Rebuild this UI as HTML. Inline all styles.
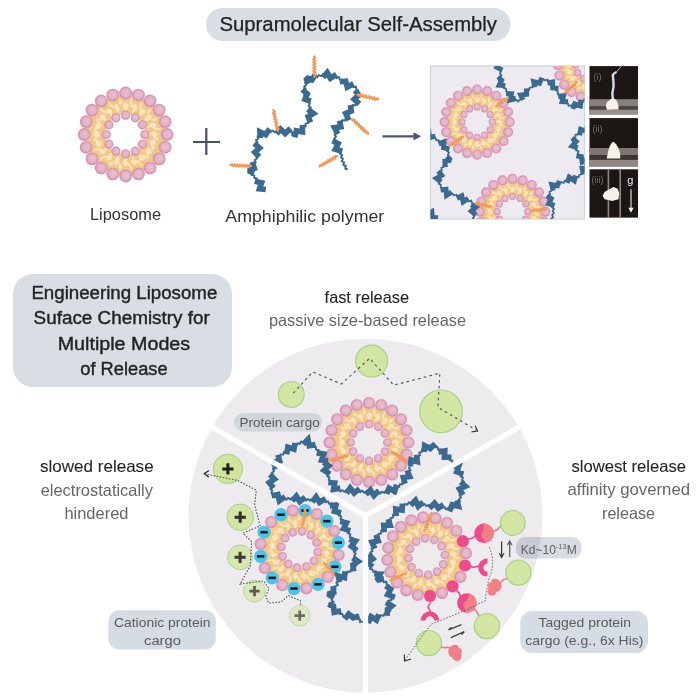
<!DOCTYPE html>
<html><head><meta charset="utf-8"><style>
html,body{margin:0;padding:0;background:#fff;width:697px;height:698px;overflow:hidden}
svg{display:block;font-family:"Liberation Sans",sans-serif}
</style></head><body>
<svg width="697" height="698" viewBox="0 0 697 698">
<defs><radialGradient id="bd" cx="0.5" cy="0.5" r="0.5" fx="0.56" fy="0.44"><stop offset="0" stop-color="#e9c0d0"/><stop offset="0.66" stop-color="#e3b1c5"/><stop offset="0.78" stop-color="#da9ab7"/><stop offset="1" stop-color="#d58faf"/></radialGradient></defs>
<rect width="697" height="698" fill="#ffffff"/>
<rect x="206" y="8" width="304.5" height="33" rx="16.5" fill="#d8dee4"/>
<text x="219.5" y="31" font-size="20.5" fill="#222222" font-weight="normal" textLength="277.5" lengthAdjust="spacingAndGlyphs" stroke="#222222" stroke-width="0.25">Supramolecular Self-Assembly</text>
<circle cx="125.6" cy="134.5" r="30.15" fill="none" stroke="#f1c987" stroke-width="19.7"/>
<path d="M125.6,110 L130.84,101.41 L133.17,111.2 L140.81,104.65 L140,114.68 L149.29,110.81 L145.42,120.1 L155.45,119.29 L148.9,126.93 L158.69,129.26 L150.1,134.5 L158.69,139.74 L148.9,142.07 L155.45,149.71 L145.42,148.9 L149.29,158.19 L140,154.32 L140.81,164.35 L133.17,157.8 L130.84,167.59 L125.6,159 L120.36,167.59 L118.03,157.8 L110.39,164.35 L111.2,154.32 L101.91,158.19 L105.78,148.9 L95.75,149.71 L102.3,142.07 L92.51,139.74 L101.1,134.5 L92.51,129.26 L102.3,126.93 L95.75,119.29 L105.78,120.1 L101.91,110.81 L111.2,114.68 L110.39,104.65 L118.03,111.2 L120.36,101.41Z" fill="none" stroke="#fae4c0" stroke-width="2.2" stroke-dasharray="6 3.5" opacity="0.9"/>
<rect x="123.3" y="103.2" width="4.6" height="4.6" fill="#fae4c0" transform="rotate(-45 125.6 105.5)"/>
<rect x="132.26" y="104.62" width="4.6" height="4.6" fill="#fae4c0" transform="rotate(-27 134.56 106.92)"/>
<rect x="140.35" y="108.74" width="4.6" height="4.6" fill="#fae4c0" transform="rotate(-9 142.65 111.04)"/>
<rect x="146.76" y="115.15" width="4.6" height="4.6" fill="#fae4c0" transform="rotate(9 149.06 117.45)"/>
<rect x="150.88" y="123.24" width="4.6" height="4.6" fill="#fae4c0" transform="rotate(27 153.18 125.54)"/>
<rect x="152.3" y="132.2" width="4.6" height="4.6" fill="#fae4c0" transform="rotate(45 154.6 134.5)"/>
<rect x="150.88" y="141.16" width="4.6" height="4.6" fill="#fae4c0" transform="rotate(63 153.18 143.46)"/>
<rect x="146.76" y="149.25" width="4.6" height="4.6" fill="#fae4c0" transform="rotate(81 149.06 151.55)"/>
<rect x="140.35" y="155.66" width="4.6" height="4.6" fill="#fae4c0" transform="rotate(99 142.65 157.96)"/>
<rect x="132.26" y="159.78" width="4.6" height="4.6" fill="#fae4c0" transform="rotate(117 134.56 162.08)"/>
<rect x="123.3" y="161.2" width="4.6" height="4.6" fill="#fae4c0" transform="rotate(135 125.6 163.5)"/>
<rect x="114.34" y="159.78" width="4.6" height="4.6" fill="#fae4c0" transform="rotate(153 116.64 162.08)"/>
<rect x="106.25" y="155.66" width="4.6" height="4.6" fill="#fae4c0" transform="rotate(171 108.55 157.96)"/>
<rect x="99.84" y="149.25" width="4.6" height="4.6" fill="#fae4c0" transform="rotate(189 102.14 151.55)"/>
<rect x="95.72" y="141.16" width="4.6" height="4.6" fill="#fae4c0" transform="rotate(207 98.02 143.46)"/>
<rect x="94.3" y="132.2" width="4.6" height="4.6" fill="#fae4c0" transform="rotate(225 96.6 134.5)"/>
<rect x="95.72" y="123.24" width="4.6" height="4.6" fill="#fae4c0" transform="rotate(243 98.02 125.54)"/>
<rect x="99.84" y="115.15" width="4.6" height="4.6" fill="#fae4c0" transform="rotate(261 102.14 117.45)"/>
<rect x="106.25" y="108.74" width="4.6" height="4.6" fill="#fae4c0" transform="rotate(279 108.55 111.04)"/>
<rect x="114.34" y="104.62" width="4.6" height="4.6" fill="#fae4c0" transform="rotate(297 116.64 106.92)"/>
<circle cx="125.6" cy="115.2" r="4.6" fill="url(#bd)"/>
<circle cx="135.25" cy="117.79" r="4.6" fill="url(#bd)"/>
<circle cx="142.31" cy="124.85" r="4.6" fill="url(#bd)"/>
<circle cx="144.9" cy="134.5" r="4.6" fill="url(#bd)"/>
<circle cx="142.31" cy="144.15" r="4.6" fill="url(#bd)"/>
<circle cx="135.25" cy="151.21" r="4.6" fill="url(#bd)"/>
<circle cx="125.6" cy="153.8" r="4.6" fill="url(#bd)"/>
<circle cx="115.95" cy="151.21" r="4.6" fill="url(#bd)"/>
<circle cx="108.89" cy="144.15" r="4.6" fill="url(#bd)"/>
<circle cx="106.3" cy="134.5" r="4.6" fill="url(#bd)"/>
<circle cx="108.89" cy="124.85" r="4.6" fill="url(#bd)"/>
<circle cx="115.95" cy="117.79" r="4.6" fill="url(#bd)"/>
<circle cx="125.6" cy="93" r="6.4" fill="url(#bd)"/>
<circle cx="138.42" cy="95.03" r="6.4" fill="url(#bd)"/>
<circle cx="149.99" cy="100.93" r="6.4" fill="url(#bd)"/>
<circle cx="159.17" cy="110.11" r="6.4" fill="url(#bd)"/>
<circle cx="165.07" cy="121.68" r="6.4" fill="url(#bd)"/>
<circle cx="167.1" cy="134.5" r="6.4" fill="url(#bd)"/>
<circle cx="165.07" cy="147.32" r="6.4" fill="url(#bd)"/>
<circle cx="159.17" cy="158.89" r="6.4" fill="url(#bd)"/>
<circle cx="149.99" cy="168.07" r="6.4" fill="url(#bd)"/>
<circle cx="138.42" cy="173.97" r="6.4" fill="url(#bd)"/>
<circle cx="125.6" cy="176" r="6.4" fill="url(#bd)"/>
<circle cx="112.78" cy="173.97" r="6.4" fill="url(#bd)"/>
<circle cx="101.21" cy="168.07" r="6.4" fill="url(#bd)"/>
<circle cx="92.03" cy="158.89" r="6.4" fill="url(#bd)"/>
<circle cx="86.13" cy="147.32" r="6.4" fill="url(#bd)"/>
<circle cx="84.1" cy="134.5" r="6.4" fill="url(#bd)"/>
<circle cx="86.13" cy="121.68" r="6.4" fill="url(#bd)"/>
<circle cx="92.03" cy="110.11" r="6.4" fill="url(#bd)"/>
<circle cx="101.21" cy="100.93" r="6.4" fill="url(#bd)"/>
<circle cx="112.78" cy="95.03" r="6.4" fill="url(#bd)"/>
<path d="M193,142 H220 M206.3,128 V155" stroke="#435269" stroke-width="2.2" fill="none"/>
<path d="M382.5,136.3 H415" stroke="#4a596e" stroke-width="2.2" fill="none"/>
<path d="M413.5,132.2 L421,136.3 L413.5,140.4 Z" fill="#4a596e"/>
<text x="90" y="219.5" font-size="17" fill="#333333" font-weight="normal" textLength="71" lengthAdjust="spacingAndGlyphs">Liposome</text>
<text x="225.3" y="222.2" font-size="17" fill="#333333" font-weight="normal" textLength="159" lengthAdjust="spacingAndGlyphs">Amphiphilic polymer</text>
<path d="M262.94,191.38 L263.41,188.73 L260.82,187.98 L261.29,185.33 L258.71,184.59 L259.16,181.94 L256.57,181.22 L256.97,178.54 L254.34,178.05 L254.3,175.39 L251.57,175.13 L251.99,172.57 L249.91,170.94 L252.14,169.34 L251.34,166.81 L253.91,165.93 L253.31,163.33 L255.78,162.27 L254.79,159.75 L257.17,158.44 L255.95,156.04 L258.07,154.38 L256.45,152.25 L258.18,150.22 L256.21,148.37 L257.8,146.21 L255.84,144.36 L257.56,142.31 L255.87,140.18 L258.07,138.71 L257.51,136.11 L260.2,135.88 L260.76,133.27 L263.38,133.93 L264.56,131.52 L266.99,132.64 L268.61,130.49 L270.74,132.16 L272.75,130.39 L274.66,132.3 L276.77,130.65 L278.67,132.58 L280.67,130.81 L282.82,132.42 L284.48,130.27 L286.76,131.6 L288.7,129.59 L289.88,131.85 L292.31,132.29 L292.09,135.2 L294.31,133.97 L296.69,134.69 L297.24,132.03 L299.92,132.1 L300.18,129.41 L302.88,129.33 L302.97,126.65 L305.65,126.35 L305.51,123.66 L308.14,123.11 L307.78,120.43 L310.43,119.75 L309.69,117.21 L311.84,115.65 L310.06,113.61 L311.62,111.44 L309.5,109.77 L310.84,107.45 L308.63,105.92 L309.87,103.53 L307.61,102.08 L308.78,99.63 L306.42,98.47 L306.8,95.9 L304.1,95.12 L305.5,92.75 L303.73,90.78 L305.67,88.91 L304.12,86.71 L306.24,85.06 L305,82.66 L307.39,81.5 L307.09,78.81 L309.78,79.08 L310.92,76.69 L313.34,77.91 L314.94,75.77 L317.25,77.2 L318.82,75.01 L321.15,76.27 L322.85,74.14 L324.89,75.92 L327.02,74.31 L328.76,76.36 L331.03,74.92 L332.65,77.07 L335,75.75 L336.45,78.01 L338.97,76.97 L339.8,79.46 L342.4,79.67 L342.14,82.47 L344.79,82.49 L345.72,84.96 L348.23,83.9 L349.64,86.18 L352.07,85 L353.4,87.31 L356.02,86.5 L356.26,89 L358.3,90.5 L356.1,92.19 L357.2,94.57 L355,96.3 L357.25,97.78 L356.73,100.14 L358.67,101.95 L355.97,102.69 L355.65,105.29 L352.95,105.07 L352.47,107.69 L349.74,107.69 L349.93,110.31 L347.59,111.52 L349.09,113.81 L347.17,115.59 L348.46,118.08 L345.84,118.3 L344.81,120.48 L342.19,120.14 L342.09,122.89 L339.41,123.21 L339.59,125.89 L336.97,126.54 L337.61,129.14 L335.24,130.38 L336.5,132.77 L334.39,134.43 L335.98,136.6 L334.11,138.54 L335.98,140.47 L334.43,142.69 L336.65,144.18 L335.75,146.69 L338.28,147.64 L337.74,150.26 L340.33,151.06 L339.71,153.65 L342.14,154.82 L340.9,157.22 L342.97,158.84 L341.68,161.23 L344.1,162.46 L343.33,165.02 L345.85,165.99 L345.19,168.6 L347.73,169.51" fill="none" stroke="#3b6a91" stroke-width="1.9" stroke-linejoin="round"/>
<path d="M265.82,189.58 L259.46,188.82 L261.59,182.78 L254.7,181.28 M254.22,173 L248.31,170.88 L254.36,168.37 L252.29,161.8 M259.27,156.78 L254.85,152.21 L259.59,148.05 L254.18,143.39 M260.23,138.15 L259.92,131.91 L265.7,134.72 L269.56,128.8 M276.54,134.04 L280.61,129.21 L285.17,133.6 L290.51,128.31 M294.81,137.33 L296.24,130.79 L302.5,131.9 L302.44,124.86 M310.59,122.35 L308.18,116.69 L313.46,113.42 L307.73,109.14 M310.88,101.16 L305.01,99.22 L307.25,93.83 L302.2,89.65 M308.24,83.71 L305.95,77.68 L311.99,79.92 L315.65,74.03 M323.16,77.53 L327.2,72.72 L330.43,78.26 L336.41,74.46 M339.73,81.78 L345.71,81.18 L347.22,87.15 L353.54,83.77 M354.9,90.43 L358.75,94.99 L354.18,99.23 L359.42,103.92 M350.32,105.06 L351.33,111.09 L345.71,113.46 L348.93,120.24 M339.57,120.61 L340.88,126.83 L334.51,127.74 L337.9,133.99 M332.59,140.73 L338.17,143.68 L335.31,149.3 L342.25,151.18" fill="none" stroke="#3b6a91" stroke-width="5.6" stroke-linejoin="miter" stroke-miterlimit="2.2"/>
<path d="M277.7,130.6 L278.13,128.99 L276.35,127.84 L277.51,126.07 L275.74,124.93 L276.9,123.16 L275.12,122.01 L276.28,120.25 L274.51,119.1 L275.67,117.33 L273.89,116.18 L275.06,114.42 L273.28,113.27 L274.44,111.5 L273.4,110.2" fill="none" stroke="#f49a58" stroke-width="2.4" stroke-linecap="round"/>
<path d="M314.5,76.5 L315.23,75.06 L313.71,73.65 L315.19,72.2 L313.66,70.8 L315.14,69.35 L313.62,67.94 L315.1,66.49 L313.58,65.08 L315.06,63.63 L313.54,62.23 L315.01,60.77 L313.49,59.37 L314.97,57.92 L314.2,56.5" fill="none" stroke="#f49a58" stroke-width="2.4" stroke-linecap="round"/>
<path d="M250.8,166 L249.38,165.18 L247.85,166.61 L246.47,165.04 L244.93,166.46 L243.55,164.89 L242.02,166.32 L240.64,164.75 L239.11,166.18 L237.72,164.61 L236.19,166.03 L234.81,164.47 L233.28,165.89 L231.89,164.32 L230.4,165" fill="none" stroke="#f49a58" stroke-width="2.4" stroke-linecap="round"/>
<path d="M357.7,94.7 L358.9,95.74 L360.6,94.58 L361.64,96.35 L363.33,95.19 L364.37,96.97 L366.06,95.81 L367.1,97.58 L368.8,96.42 L369.84,98.19 L371.53,97.03 L372.57,98.81 L374.26,97.65 L375.3,99.42 L377,98.26 L378.2,99.3" fill="none" stroke="#f49a58" stroke-width="2.4" stroke-linecap="round"/>
<path d="M352.1,118.9 L352.65,120.44 L354.73,120.34 L354.77,122.43 L356.85,122.33 L356.89,124.41 L358.97,124.31 L359.01,126.4 L361.09,126.3 L361.13,128.39 L363.21,128.29 L363.25,130.37 L365.33,130.27 L365.37,132.36 L367.45,132.26 L368,133.8" fill="none" stroke="#f49a58" stroke-width="2.4" stroke-linecap="round"/>
<path d="M337.2,156.1 L335.56,156.19 L335.06,158.22 L333.05,157.66 L332.55,159.69 L330.54,159.13 L330.04,161.16 L328.02,160.6 L327.52,162.63 L325.51,162.07 L325.01,164.1 L322.99,163.55 L322.49,165.58 L320.48,165.02 L319.6,166.4" fill="none" stroke="#f49a58" stroke-width="2.4" stroke-linecap="round"/>
<defs><clipPath id="pc"><rect x="430.5" y="66" width="154" height="153"/></clipPath></defs>
<rect x="430.5" y="66" width="154" height="153" fill="#edebef" stroke="#cdd7e0" stroke-width="1.3"/>
<g clip-path="url(#pc)">
<circle cx="477.1" cy="122.1" r="23.67" fill="none" stroke="#f1c987" stroke-width="15.46"/>
<path d="M477.1,102.87 L481.21,96.13 L483.04,103.81 L489.04,98.67 L488.4,106.54 L495.7,103.5 L492.66,110.8 L500.53,110.16 L495.39,116.16 L503.07,117.99 L496.33,122.1 L503.07,126.21 L495.39,128.04 L500.53,134.04 L492.66,133.4 L495.7,140.7 L488.4,137.66 L489.04,145.53 L483.04,140.39 L481.21,148.07 L477.1,141.33 L472.99,148.07 L471.16,140.39 L465.16,145.53 L465.8,137.66 L458.5,140.7 L461.54,133.4 L453.67,134.04 L458.81,128.04 L451.13,126.21 L457.87,122.1 L451.13,117.99 L458.81,116.16 L453.67,110.16 L461.54,110.8 L458.5,103.5 L465.8,106.54 L465.16,98.67 L471.16,103.81 L472.99,96.13Z" fill="none" stroke="#fae4c0" stroke-width="1.73" stroke-dasharray="4.71 2.75" opacity="0.9"/>
<rect x="475.29" y="97.53" width="3.61" height="3.61" fill="#fae4c0" transform="rotate(-45 477.1 99.33)"/>
<rect x="482.33" y="98.64" width="3.61" height="3.61" fill="#fae4c0" transform="rotate(-27 484.13 100.45)"/>
<rect x="488.68" y="101.88" width="3.61" height="3.61" fill="#fae4c0" transform="rotate(-9 490.48 103.68)"/>
<rect x="493.71" y="106.91" width="3.61" height="3.61" fill="#fae4c0" transform="rotate(9 495.52 108.72)"/>
<rect x="496.95" y="113.26" width="3.61" height="3.61" fill="#fae4c0" transform="rotate(27 498.75 115.07)"/>
<rect x="498.06" y="120.29" width="3.61" height="3.61" fill="#fae4c0" transform="rotate(45 499.87 122.1)"/>
<rect x="496.95" y="127.33" width="3.61" height="3.61" fill="#fae4c0" transform="rotate(63 498.75 129.13)"/>
<rect x="493.71" y="133.68" width="3.61" height="3.61" fill="#fae4c0" transform="rotate(81 495.52 135.48)"/>
<rect x="488.68" y="138.71" width="3.61" height="3.61" fill="#fae4c0" transform="rotate(99 490.48 140.52)"/>
<rect x="482.33" y="141.95" width="3.61" height="3.61" fill="#fae4c0" transform="rotate(117 484.13 143.75)"/>
<rect x="475.29" y="143.06" width="3.61" height="3.61" fill="#fae4c0" transform="rotate(135 477.1 144.87)"/>
<rect x="468.26" y="141.95" width="3.61" height="3.61" fill="#fae4c0" transform="rotate(153 470.07 143.75)"/>
<rect x="461.91" y="138.71" width="3.61" height="3.61" fill="#fae4c0" transform="rotate(171 463.72 140.52)"/>
<rect x="456.88" y="133.68" width="3.61" height="3.61" fill="#fae4c0" transform="rotate(189 458.68 135.48)"/>
<rect x="453.64" y="127.33" width="3.61" height="3.61" fill="#fae4c0" transform="rotate(207 455.45 129.13)"/>
<rect x="452.53" y="120.29" width="3.61" height="3.61" fill="#fae4c0" transform="rotate(225 454.34 122.1)"/>
<rect x="453.64" y="113.26" width="3.61" height="3.61" fill="#fae4c0" transform="rotate(243 455.45 115.07)"/>
<rect x="456.88" y="106.91" width="3.61" height="3.61" fill="#fae4c0" transform="rotate(261 458.68 108.72)"/>
<rect x="461.91" y="101.88" width="3.61" height="3.61" fill="#fae4c0" transform="rotate(279 463.72 103.68)"/>
<rect x="468.26" y="98.64" width="3.61" height="3.61" fill="#fae4c0" transform="rotate(297 470.07 100.45)"/>
<circle cx="477.1" cy="106.95" r="3.61" fill="url(#bd)"/>
<circle cx="484.68" cy="108.98" r="3.61" fill="url(#bd)"/>
<circle cx="490.22" cy="114.52" r="3.61" fill="url(#bd)"/>
<circle cx="492.25" cy="122.1" r="3.61" fill="url(#bd)"/>
<circle cx="490.22" cy="129.68" r="3.61" fill="url(#bd)"/>
<circle cx="484.68" cy="135.22" r="3.61" fill="url(#bd)"/>
<circle cx="477.1" cy="137.25" r="3.61" fill="url(#bd)"/>
<circle cx="469.52" cy="135.22" r="3.61" fill="url(#bd)"/>
<circle cx="463.98" cy="129.68" r="3.61" fill="url(#bd)"/>
<circle cx="461.95" cy="122.1" r="3.61" fill="url(#bd)"/>
<circle cx="463.98" cy="114.52" r="3.61" fill="url(#bd)"/>
<circle cx="469.52" cy="108.98" r="3.61" fill="url(#bd)"/>
<circle cx="477.1" cy="89.52" r="5.02" fill="url(#bd)"/>
<circle cx="487.17" cy="91.12" r="5.02" fill="url(#bd)"/>
<circle cx="496.25" cy="95.74" r="5.02" fill="url(#bd)"/>
<circle cx="503.46" cy="102.95" r="5.02" fill="url(#bd)"/>
<circle cx="508.08" cy="112.03" r="5.02" fill="url(#bd)"/>
<circle cx="509.68" cy="122.1" r="5.02" fill="url(#bd)"/>
<circle cx="508.08" cy="132.17" r="5.02" fill="url(#bd)"/>
<circle cx="503.46" cy="141.25" r="5.02" fill="url(#bd)"/>
<circle cx="496.25" cy="148.46" r="5.02" fill="url(#bd)"/>
<circle cx="487.17" cy="153.08" r="5.02" fill="url(#bd)"/>
<circle cx="477.1" cy="154.68" r="5.02" fill="url(#bd)"/>
<circle cx="467.03" cy="153.08" r="5.02" fill="url(#bd)"/>
<circle cx="457.95" cy="148.46" r="5.02" fill="url(#bd)"/>
<circle cx="450.74" cy="141.25" r="5.02" fill="url(#bd)"/>
<circle cx="446.12" cy="132.17" r="5.02" fill="url(#bd)"/>
<circle cx="444.52" cy="122.1" r="5.02" fill="url(#bd)"/>
<circle cx="446.12" cy="112.03" r="5.02" fill="url(#bd)"/>
<circle cx="450.74" cy="102.95" r="5.02" fill="url(#bd)"/>
<circle cx="457.95" cy="95.74" r="5.02" fill="url(#bd)"/>
<circle cx="467.03" cy="91.12" r="5.02" fill="url(#bd)"/>
<circle cx="512.5" cy="211.6" r="23.82" fill="none" stroke="#f1c987" stroke-width="15.56"/>
<path d="M512.5,192.25 L516.64,185.46 L518.48,193.19 L524.51,188.02 L523.88,195.94 L531.21,192.89 L528.16,200.22 L536.08,199.59 L530.91,205.62 L538.64,207.46 L531.86,211.6 L538.64,215.74 L530.91,217.58 L536.08,223.61 L528.16,222.98 L531.21,230.31 L523.88,227.26 L524.51,235.18 L518.48,230.01 L516.64,237.74 L512.5,230.95 L508.36,237.74 L506.52,230.01 L500.49,235.18 L501.12,227.26 L493.79,230.31 L496.84,222.98 L488.92,223.61 L494.09,217.58 L486.36,215.74 L493.14,211.6 L486.36,207.46 L494.09,205.62 L488.92,199.59 L496.84,200.22 L493.79,192.89 L501.12,195.94 L500.49,188.02 L506.52,193.19 L508.36,185.46Z" fill="none" stroke="#fae4c0" stroke-width="1.74" stroke-dasharray="4.74 2.77" opacity="0.9"/>
<rect x="510.68" y="186.87" width="3.63" height="3.63" fill="#fae4c0" transform="rotate(-45 512.5 188.69)"/>
<rect x="517.76" y="187.99" width="3.63" height="3.63" fill="#fae4c0" transform="rotate(-27 519.58 189.81)"/>
<rect x="524.15" y="191.25" width="3.63" height="3.63" fill="#fae4c0" transform="rotate(-9 525.97 193.07)"/>
<rect x="529.22" y="196.32" width="3.63" height="3.63" fill="#fae4c0" transform="rotate(9 531.03 198.13)"/>
<rect x="532.47" y="202.7" width="3.63" height="3.63" fill="#fae4c0" transform="rotate(27 534.29 204.52)"/>
<rect x="533.59" y="209.78" width="3.63" height="3.63" fill="#fae4c0" transform="rotate(45 535.41 211.6)"/>
<rect x="532.47" y="216.86" width="3.63" height="3.63" fill="#fae4c0" transform="rotate(63 534.29 218.68)"/>
<rect x="529.22" y="223.25" width="3.63" height="3.63" fill="#fae4c0" transform="rotate(81 531.03 225.07)"/>
<rect x="524.15" y="228.32" width="3.63" height="3.63" fill="#fae4c0" transform="rotate(99 525.97 230.13)"/>
<rect x="517.76" y="231.57" width="3.63" height="3.63" fill="#fae4c0" transform="rotate(117 519.58 233.39)"/>
<rect x="510.68" y="232.69" width="3.63" height="3.63" fill="#fae4c0" transform="rotate(135 512.5 234.51)"/>
<rect x="503.6" y="231.57" width="3.63" height="3.63" fill="#fae4c0" transform="rotate(153 505.42 233.39)"/>
<rect x="497.22" y="228.32" width="3.63" height="3.63" fill="#fae4c0" transform="rotate(171 499.03 230.13)"/>
<rect x="492.15" y="223.25" width="3.63" height="3.63" fill="#fae4c0" transform="rotate(189 493.97 225.07)"/>
<rect x="488.89" y="216.86" width="3.63" height="3.63" fill="#fae4c0" transform="rotate(207 490.71 218.68)"/>
<rect x="487.77" y="209.78" width="3.63" height="3.63" fill="#fae4c0" transform="rotate(225 489.59 211.6)"/>
<rect x="488.89" y="202.7" width="3.63" height="3.63" fill="#fae4c0" transform="rotate(243 490.71 204.52)"/>
<rect x="492.15" y="196.32" width="3.63" height="3.63" fill="#fae4c0" transform="rotate(261 493.97 198.13)"/>
<rect x="497.22" y="191.25" width="3.63" height="3.63" fill="#fae4c0" transform="rotate(279 499.03 193.07)"/>
<rect x="503.6" y="187.99" width="3.63" height="3.63" fill="#fae4c0" transform="rotate(297 505.42 189.81)"/>
<circle cx="512.5" cy="196.35" r="3.63" fill="url(#bd)"/>
<circle cx="520.12" cy="198.4" r="3.63" fill="url(#bd)"/>
<circle cx="525.7" cy="203.98" r="3.63" fill="url(#bd)"/>
<circle cx="527.75" cy="211.6" r="3.63" fill="url(#bd)"/>
<circle cx="525.7" cy="219.22" r="3.63" fill="url(#bd)"/>
<circle cx="520.12" cy="224.8" r="3.63" fill="url(#bd)"/>
<circle cx="512.5" cy="226.85" r="3.63" fill="url(#bd)"/>
<circle cx="504.88" cy="224.8" r="3.63" fill="url(#bd)"/>
<circle cx="499.3" cy="219.22" r="3.63" fill="url(#bd)"/>
<circle cx="497.25" cy="211.6" r="3.63" fill="url(#bd)"/>
<circle cx="499.3" cy="203.98" r="3.63" fill="url(#bd)"/>
<circle cx="504.88" cy="198.4" r="3.63" fill="url(#bd)"/>
<circle cx="512.5" cy="178.81" r="5.06" fill="url(#bd)"/>
<circle cx="522.63" cy="180.42" r="5.06" fill="url(#bd)"/>
<circle cx="531.77" cy="185.08" r="5.06" fill="url(#bd)"/>
<circle cx="539.02" cy="192.33" r="5.06" fill="url(#bd)"/>
<circle cx="543.68" cy="201.47" r="5.06" fill="url(#bd)"/>
<circle cx="545.28" cy="211.6" r="5.06" fill="url(#bd)"/>
<circle cx="543.68" cy="221.73" r="5.06" fill="url(#bd)"/>
<circle cx="539.02" cy="230.87" r="5.06" fill="url(#bd)"/>
<circle cx="531.77" cy="238.12" r="5.06" fill="url(#bd)"/>
<circle cx="522.63" cy="242.78" r="5.06" fill="url(#bd)"/>
<circle cx="512.5" cy="244.38" r="5.06" fill="url(#bd)"/>
<circle cx="502.37" cy="242.78" r="5.06" fill="url(#bd)"/>
<circle cx="493.23" cy="238.12" r="5.06" fill="url(#bd)"/>
<circle cx="485.98" cy="230.87" r="5.06" fill="url(#bd)"/>
<circle cx="481.32" cy="221.73" r="5.06" fill="url(#bd)"/>
<circle cx="479.71" cy="211.6" r="5.06" fill="url(#bd)"/>
<circle cx="481.32" cy="201.47" r="5.06" fill="url(#bd)"/>
<circle cx="485.98" cy="192.33" r="5.06" fill="url(#bd)"/>
<circle cx="493.23" cy="185.08" r="5.06" fill="url(#bd)"/>
<circle cx="502.37" cy="180.42" r="5.06" fill="url(#bd)"/>
<circle cx="591" cy="65" r="24.12" fill="none" stroke="#f1c987" stroke-width="15.76"/>
<path d="M591,45.4 L595.19,38.53 L597.06,46.36 L603.17,41.12 L602.52,49.14 L609.95,46.05 L606.86,53.48 L614.88,52.83 L609.64,58.94 L617.47,60.81 L610.6,65 L617.47,69.19 L609.64,71.06 L614.88,77.17 L606.86,76.52 L609.95,83.95 L602.52,80.86 L603.17,88.88 L597.06,83.64 L595.19,91.47 L591,84.6 L586.81,91.47 L584.94,83.64 L578.83,88.88 L579.48,80.86 L572.05,83.95 L575.14,76.52 L567.12,77.17 L572.36,71.06 L564.53,69.19 L571.4,65 L564.53,60.81 L572.36,58.94 L567.12,52.83 L575.14,53.48 L572.05,46.05 L579.48,49.14 L578.83,41.12 L584.94,46.36 L586.81,38.53Z" fill="none" stroke="#fae4c0" stroke-width="1.76" stroke-dasharray="4.8 2.8" opacity="0.9"/>
<rect x="589.16" y="39.96" width="3.68" height="3.68" fill="#fae4c0" transform="rotate(-45 591 41.8)"/>
<rect x="596.33" y="41.1" width="3.68" height="3.68" fill="#fae4c0" transform="rotate(-27 598.17 42.94)"/>
<rect x="602.8" y="44.39" width="3.68" height="3.68" fill="#fae4c0" transform="rotate(-9 604.64 46.23)"/>
<rect x="607.93" y="49.52" width="3.68" height="3.68" fill="#fae4c0" transform="rotate(9 609.77 51.36)"/>
<rect x="611.22" y="55.99" width="3.68" height="3.68" fill="#fae4c0" transform="rotate(27 613.06 57.83)"/>
<rect x="612.36" y="63.16" width="3.68" height="3.68" fill="#fae4c0" transform="rotate(45 614.2 65)"/>
<rect x="611.22" y="70.33" width="3.68" height="3.68" fill="#fae4c0" transform="rotate(63 613.06 72.17)"/>
<rect x="607.93" y="76.8" width="3.68" height="3.68" fill="#fae4c0" transform="rotate(81 609.77 78.64)"/>
<rect x="602.8" y="81.93" width="3.68" height="3.68" fill="#fae4c0" transform="rotate(99 604.64 83.77)"/>
<rect x="596.33" y="85.22" width="3.68" height="3.68" fill="#fae4c0" transform="rotate(117 598.17 87.06)"/>
<rect x="589.16" y="86.36" width="3.68" height="3.68" fill="#fae4c0" transform="rotate(135 591 88.2)"/>
<rect x="581.99" y="85.22" width="3.68" height="3.68" fill="#fae4c0" transform="rotate(153 583.83 87.06)"/>
<rect x="575.52" y="81.93" width="3.68" height="3.68" fill="#fae4c0" transform="rotate(171 577.36 83.77)"/>
<rect x="570.39" y="76.8" width="3.68" height="3.68" fill="#fae4c0" transform="rotate(189 572.23 78.64)"/>
<rect x="567.1" y="70.33" width="3.68" height="3.68" fill="#fae4c0" transform="rotate(207 568.94 72.17)"/>
<rect x="565.96" y="63.16" width="3.68" height="3.68" fill="#fae4c0" transform="rotate(225 567.8 65)"/>
<rect x="567.1" y="55.99" width="3.68" height="3.68" fill="#fae4c0" transform="rotate(243 568.94 57.83)"/>
<rect x="570.39" y="49.52" width="3.68" height="3.68" fill="#fae4c0" transform="rotate(261 572.23 51.36)"/>
<rect x="575.52" y="44.39" width="3.68" height="3.68" fill="#fae4c0" transform="rotate(279 577.36 46.23)"/>
<rect x="581.99" y="41.1" width="3.68" height="3.68" fill="#fae4c0" transform="rotate(297 583.83 42.94)"/>
<circle cx="591" cy="49.56" r="3.68" fill="url(#bd)"/>
<circle cx="598.72" cy="51.63" r="3.68" fill="url(#bd)"/>
<circle cx="604.37" cy="57.28" r="3.68" fill="url(#bd)"/>
<circle cx="606.44" cy="65" r="3.68" fill="url(#bd)"/>
<circle cx="604.37" cy="72.72" r="3.68" fill="url(#bd)"/>
<circle cx="598.72" cy="78.37" r="3.68" fill="url(#bd)"/>
<circle cx="591" cy="80.44" r="3.68" fill="url(#bd)"/>
<circle cx="583.28" cy="78.37" r="3.68" fill="url(#bd)"/>
<circle cx="577.63" cy="72.72" r="3.68" fill="url(#bd)"/>
<circle cx="575.56" cy="65" r="3.68" fill="url(#bd)"/>
<circle cx="577.63" cy="57.28" r="3.68" fill="url(#bd)"/>
<circle cx="583.28" cy="51.63" r="3.68" fill="url(#bd)"/>
<circle cx="591" cy="31.8" r="5.12" fill="url(#bd)"/>
<circle cx="601.26" cy="33.42" r="5.12" fill="url(#bd)"/>
<circle cx="610.51" cy="38.14" r="5.12" fill="url(#bd)"/>
<circle cx="617.86" cy="45.49" r="5.12" fill="url(#bd)"/>
<circle cx="622.58" cy="54.74" r="5.12" fill="url(#bd)"/>
<circle cx="624.2" cy="65" r="5.12" fill="url(#bd)"/>
<circle cx="622.58" cy="75.26" r="5.12" fill="url(#bd)"/>
<circle cx="617.86" cy="84.51" r="5.12" fill="url(#bd)"/>
<circle cx="610.51" cy="91.86" r="5.12" fill="url(#bd)"/>
<circle cx="601.26" cy="96.58" r="5.12" fill="url(#bd)"/>
<circle cx="591" cy="98.2" r="5.12" fill="url(#bd)"/>
<circle cx="580.74" cy="96.58" r="5.12" fill="url(#bd)"/>
<circle cx="571.49" cy="91.86" r="5.12" fill="url(#bd)"/>
<circle cx="564.14" cy="84.51" r="5.12" fill="url(#bd)"/>
<circle cx="559.42" cy="75.26" r="5.12" fill="url(#bd)"/>
<circle cx="557.8" cy="65" r="5.12" fill="url(#bd)"/>
<circle cx="559.42" cy="54.74" r="5.12" fill="url(#bd)"/>
<circle cx="564.14" cy="45.49" r="5.12" fill="url(#bd)"/>
<circle cx="571.49" cy="38.14" r="5.12" fill="url(#bd)"/>
<circle cx="580.74" cy="33.42" r="5.12" fill="url(#bd)"/>
<path d="M498.08,59.79 L497.04,62.15 L499.14,63.64 L498.11,66 L500.19,67.51 L499.11,69.85 L501.14,71.44 L499.91,73.66 L501.61,75.66 L499.47,77.2 L500.26,79.45 L498.81,81.5 L501.2,82.62 L501.05,85.17 L503.58,85.69 L503.65,88.26 L506.19,88.73 L506.16,91.29 L508.61,92.03 L508.28,94.6 L510.69,95.44 L510.52,98.04 L513.04,98.34 L513.9,100.74 L516.29,99.83 L518.22,101.55 L519.58,99.49 L522,99.14 L521.53,96.54 L523.86,95.54 L523.64,92.96 L526.22,92.61 L526.61,90.08 L529.19,90.03 L529.71,87.51 L532.29,87.49 L532.72,84.98 L535.24,84.67 L535.51,82.04 L538.07,82.27 L539.26,80.03 L541.65,80.98 L543.29,78.98 L545.32,80.47 L547.66,79.42 L548.39,81.94 L550.9,82.23 L551.07,84.85 L553.63,84.9 L554.35,87.2 L556.87,87.71 L555.9,90.22 L557.93,91.62 L557.61,94.14 L560.24,94.4 L560.6,96.89 L563.12,97.38 L562.84,99.98 L565.25,100.77 L565.28,103.36 L567.89,103.45 L568.57,105.95 L571.05,105.42 L572.7,107.41 L574.44,105.49 L576.87,106.18 L577.82,103.77 L580.36,104.06 L581.13,101.61 L583.71,101.76 L584.25,99.24 L586.81,99.14 L587.22,96.6" fill="none" stroke="#3b6a91" stroke-width="1.71" stroke-linejoin="round"/>
<path d="M495.13,60.58 L500.26,62.29 L496.98,67.33 L502.32,70.13 M498.12,76.72 L501.63,80.19 L499.25,85.18 L505.32,85.51 M506.04,93.69 L511.4,93.85 L510.2,99.87 L515.87,98.23 M523.19,99.96 L520.7,94.96 L526.59,94.26 L526.45,88.32 M534.84,87.18 L533.74,81.76 L539.49,83.22 L541.96,77.76 M547.44,83.03 L552.61,81.99 L552.73,87.92 L558.6,88.31 M558.18,96.65 L563.59,95.62 L562.16,101.64 L568.1,101.76 M572.67,108.85 L574.73,103.82 L580.29,105.82 L581.1,99.88" fill="none" stroke="#3b6a91" stroke-width="5.04" stroke-linejoin="miter" stroke-miterlimit="2.2"/>
<path d="M425.44,131.32 L426.24,133.77 L428.8,133.49 L429.6,135.93 L432.16,135.66 L432.95,138.11 L435.51,137.87 L436.24,140.34 L438.8,140.18 L439.51,142.65 L442.09,142.44 L442.74,144.91 L445.32,145.06 L445.3,147.62 L447.66,148.6 L446.87,151.06 L448.98,152.54 L447.79,154.81 L449.62,156.63 L448,158.57 L449.07,160.94 L446.57,161.68 L446.23,164.17 L443.61,164.32 L443.59,166.87 L441.25,167.82 L441.91,170.32 L439.68,171.6 L440.59,174 L438.5,175.51 L439.65,177.8 L437.72,179.59 L439.47,181.45 L438.59,183.82 L440.95,184.88 L440.61,187.42 L443.08,188.14 L443.06,190.72 L445.6,191.05 L446.18,193.59 L448.67,192.94 L450.24,194.92 L452.47,193.56 L454.15,195.45 L456.55,194.54 L457.61,196.9 L460.15,196.56 L460.98,199.02 L463.49,198.61 L464.74,200.88 L467.06,199.68 L468.78,201.53 L471.19,200.43 L471.84,202.81 L474.04,203.92 L472.7,206.17 L474.36,208.1 L472.74,210.12 L474.43,212.08 L472.87,214.12 L474.5,216.11 L472.87,218.1 L474.46,220.12 L472.81,222.09" fill="none" stroke="#3b6a91" stroke-width="1.71" stroke-linejoin="round"/>
<path d="M423.78,133.89 L428.74,131.73 L429.66,137.68 L435.48,136.12 M438.7,143.84 L443.79,141.87 L443.63,147.77 L449.4,149.05 M446.57,156.8 L450.83,160.25 L444.9,161.28 L445.25,167.03 M438.32,171.11 L441.71,175.32 L436.43,178.33 L441.09,181.87 M440.63,189.97 L445.97,189.38 L446.55,195.41 L451.67,192.02 M456.91,198.16 L461.76,195.89 L463.19,201.86 L468.25,198.38 M471.08,204.72 L475.79,207.04 L471.32,211.17 L475.94,215.09" fill="none" stroke="#3b6a91" stroke-width="5.04" stroke-linejoin="miter" stroke-miterlimit="2.2"/>
<path d="M588.39,128.71 L585.87,128.25 L584.85,130.6 L582.32,130.1 L581.35,132.48 L578.8,132.11 L578.05,134.56 L575.45,134.62 L575.53,137.16 L573.35,138.45 L574.69,140.66 L573.14,142.68 L575,144.48 L573.79,146.81 L576.06,147.96 L575.99,150.45 L578.58,151.11 L577.72,153.52 L579.42,155.25 L578.38,157.69 L580.97,158.04 L581.88,160.37 L584.38,159.69 L585.63,161.93 L588.09,161.15" fill="none" stroke="#3b6a91" stroke-width="1.71" stroke-linejoin="round"/>
<path d="M586.91,126.03 L586.4,131.42 L580.73,129.32 L579.65,135.2 M571.95,138.11 L576.13,141.57 L572.17,146.05 L577.76,147.83 M576.39,155.69 L581.35,156.56 L582.24,162.11 L587.68,159.44" fill="none" stroke="#3b6a91" stroke-width="5.04" stroke-linejoin="miter" stroke-miterlimit="2.2"/>
<path d="M588.66,164.46 L586.19,165.18 L586.4,167.75 L583.93,168.48 L584.11,171.05 L581.63,171.72 L581.7,174.3 L579.2,174.75 L578.74,177.31 L576.22,176.83 L574.84,178.91 L572.49,177.97 L570.93,179.97 L568.56,178.86 L567.28,181.1 L564.8,180.6 L563.75,182.99 L561.36,182.17 L559.64,183.98 L557.39,182.57 L556.13,184.76 L553.64,184.84 L553.64,187.43 L551.2,188.22 L551.66,190.75 L549.35,191.91 L550.25,194.31 L548.26,195.95 L549.76,198 L548.55,200.28 L550.97,201.35 L550.62,203.82 L552.86,205 L552,207.41 L554.07,208.98 L552.62,211.1 L554.06,213.21 L552.08,214.88 L553.17,217.2 L551.08,218.71 L552.08,221.07 L549.96,222.54" fill="none" stroke="#3b6a91" stroke-width="1.71" stroke-linejoin="round"/>
<path d="M586.15,162.71 L588.15,167.74 L582.18,168.47 L583.47,174.37 M575.67,175.5 L574.28,180.61 L569.22,177.21 L567.09,182.83 M559.33,180.94 L557.43,185.71 L551.83,184.75 L553.37,190.59 M546.83,195.77 L551.25,198.6 L548.88,203.73 L554.58,205.51" fill="none" stroke="#3b6a91" stroke-width="5.04" stroke-linejoin="miter" stroke-miterlimit="2.2"/>
<path d="M428.41,211.3 L429.31,213.71 L431.87,213.37 L432.56,215.82 L435.13,216.04 L435.03,218.64 L437.45,219.47 L437.06,222.02" fill="none" stroke="#3b6a91" stroke-width="1.71" stroke-linejoin="round"/>
<path d="M426.86,213.94 L431.76,211.61 L432.27,217.46 L438.14,217.83" fill="none" stroke="#3b6a91" stroke-width="5.04" stroke-linejoin="miter" stroke-miterlimit="2.2"/>
<path d="M496,106.2 L497.62,105.99 L497.95,103.92 L500,104.33 L500.33,102.26 L502.38,102.67 L502.71,100.6 L504.76,101.01 L505.09,98.94 L507.14,99.35 L507.9,97.9" fill="none" stroke="#f49a58" stroke-width="2.2" stroke-linecap="round"/>
<path d="M449.9,145.3 L451.49,145.18 L451.86,143.16 L453.85,143.67 L454.22,141.65 L456.21,142.16 L456.59,140.14 L458.58,140.65 L458.95,138.63 L460.94,139.14 L461.31,137.12 L462.9,137" fill="none" stroke="#f49a58" stroke-width="2.2" stroke-linecap="round"/>
<path d="M476,203.4 L477.23,204.45 L478.97,203.31 L480.03,205.09 L481.77,203.94 L482.83,205.72 L484.57,204.58 L485.63,206.36 L487.37,205.21 L488.43,206.99 L490.17,205.85 L491.4,206.9" fill="none" stroke="#f49a58" stroke-width="2.2" stroke-linecap="round"/>
<path d="M531.6,210.5 L533.09,211.13 L534.4,209.51 L535.95,210.89 L537.26,209.27 L538.81,210.65 L540.12,209.03 L541.67,210.41 L542.98,208.79 L544.53,210.17 L545.9,209.3" fill="none" stroke="#f49a58" stroke-width="2.2" stroke-linecap="round"/>
<path d="M564.5,92.8 L566.12,92.43 L566.29,90.33 L568.39,90.54 L568.57,88.44 L570.66,88.65 L570.84,86.55 L572.93,86.76 L573.11,84.66 L575.21,84.87 L575.38,82.77 L577,82.4" fill="none" stroke="#f49a58" stroke-width="2.2" stroke-linecap="round"/>
</g>
<rect x="589.5" y="66.1" width="48.5" height="48.3" fill="#1c1715"/>
<rect x="589.5" y="99.2" width="48.5" height="7.4" fill="#8a807b"/>
<rect x="589.5" y="106.6" width="48.5" height="3" fill="#4a423e"/>
<rect x="589.5" y="109.6" width="48.5" height="4.7" fill="#9a918d"/>
<path d="M616,72.6 L621.5,66" fill="none" stroke="#b9a888" stroke-width="1"/>
<path d="M612.8,99.6 Q611.5,93 613.6,86.5 Q613.5,80 612.8,75 Q614,73 616.5,72" fill="none" stroke="#d5ddef" stroke-width="2.4"/>
<path d="M605.9,106.2 L607,102 L609.5,100.4 L611.2,98.8 L614.4,98.4 L616.5,100.4 L617.7,102.9 L618.5,106.2 L618.5,109.4 L607,109.8 Z" fill="#f5f2ea"/>
<text x="593.5" y="79.6" font-size="9" fill="#77726e">(i)</text>
<rect x="589.5" y="118.1" width="48.5" height="48.3" fill="#1c1715"/>
<rect x="589.5" y="148" width="48.5" height="7.3" fill="#81766f"/>
<rect x="589.5" y="155.3" width="48.5" height="4.5" fill="#3e3632"/>
<rect x="589.5" y="159.8" width="48.5" height="6.6" fill="#918884"/>
<path d="M606.7,158.6 L607.9,152.4 L609.5,146.7 L612,142.6 L613.6,141.8 L616.1,144.3 L618.5,148.3 L620.2,154 L620.2,158.6 Z" fill="#f5f2ea"/>
<text x="592.5" y="131.6" font-size="9" fill="#77726e">(ii)</text>
<rect x="589.5" y="169.3" width="48.5" height="48.3" fill="#1c1715"/>
<rect x="607.6" y="169.3" width="1.6" height="48.3" fill="#8d8580"/>
<rect x="619.4" y="169.3" width="1.6" height="48.3" fill="#8d8580"/>
<path d="M602.6,195.7 L604.6,192 L608.7,189.5 L613.6,187.1 L617.7,188.7 L619.3,193.6 L618.5,199.3 L612,201 L609.5,200.2 L604.6,199.3 Z" fill="#f5f2ea"/>
<text x="591.5" y="182.8" font-size="9" fill="#77726e">(iii)</text>
<text x="627.2" y="184.3" font-size="11" fill="#ececec">g</text>
<path d="M631,189.3 V208.3" stroke="#dcdcdc" stroke-width="1.2"/>
<path d="M628.3,207.8 L633.7,207.8 L631,212.8 Z" fill="#f0f0f0"/>
<rect x="13" y="274" width="219" height="113" rx="20" fill="#d8dee4"/>
<text x="31.4" y="299.1" font-size="18" fill="#242424" font-weight="normal" textLength="185.9" lengthAdjust="spacingAndGlyphs" stroke="#242424" stroke-width="0.4">Engineering Liposome</text>
<text x="33.6" y="324.1" font-size="18" fill="#242424" font-weight="normal" textLength="176.2" lengthAdjust="spacingAndGlyphs" stroke="#242424" stroke-width="0.4">Suface Chemistry for</text>
<text x="57.7" y="349.7" font-size="18" fill="#242424" font-weight="normal" textLength="132.5" lengthAdjust="spacingAndGlyphs" stroke="#242424" stroke-width="0.4">Multiple Modes</text>
<text x="80.3" y="375" font-size="18" fill="#242424" font-weight="normal" textLength="87.3" lengthAdjust="spacingAndGlyphs" stroke="#242424" stroke-width="0.4">of Release</text>
<text x="324.6" y="302.5" font-size="16.5" fill="#262626" font-weight="normal" textLength="84.4" lengthAdjust="spacingAndGlyphs" stroke="#262626" stroke-width="0.08">fast release</text>
<text x="268.9" y="326.2" font-size="16.5" fill="#666666" font-weight="normal" textLength="197.1" lengthAdjust="spacingAndGlyphs">passive size-based release</text>
<text x="40" y="472" font-size="16.5" fill="#262626" font-weight="normal" textLength="113.6" lengthAdjust="spacingAndGlyphs" stroke="#262626" stroke-width="0.08">slowed release</text>
<text x="40.7" y="495.5" font-size="16.5" fill="#666666" font-weight="normal" textLength="112.3" lengthAdjust="spacingAndGlyphs">electrostatically</text>
<text x="64.4" y="519" font-size="16.5" fill="#666666" font-weight="normal" textLength="64.1" lengthAdjust="spacingAndGlyphs">hindered</text>
<text x="571.5" y="471.5" font-size="16.5" fill="#262626" font-weight="normal" textLength="114.5" lengthAdjust="spacingAndGlyphs" stroke="#262626" stroke-width="0.08">slowest release</text>
<text x="567.5" y="495" font-size="16.5" fill="#666666" font-weight="normal" textLength="122.5" lengthAdjust="spacingAndGlyphs">affinity governed</text>
<text x="602" y="519" font-size="16.5" fill="#666666" font-weight="normal" textLength="53" lengthAdjust="spacingAndGlyphs">release</text>
<circle cx="365.5" cy="515.7" r="177" fill="#edebee"/>
<circle cx="291.3" cy="394.4" r="12.9" fill="#d2e5a2" stroke="#a6d38c" stroke-width="1.2"/>
<circle cx="371.6" cy="361.1" r="16" fill="#d2e5a2" stroke="#a6d38c" stroke-width="1.2"/>
<circle cx="441" cy="411.3" r="21.3" fill="#d2e5a2" stroke="#a6d38c" stroke-width="1.2"/>
<path d="M293.3,393.2 L312.6,372 L341.5,384 L369.6,358.3 L393.7,385.2 L439.9,373.2 L437.9,407.3 L476,430" fill="none" stroke="#555555" stroke-width="1.15" stroke-dasharray="2.6 3.3"/>
<path d="M471.5,431.8 L477.5,431 L475.2,425.8" fill="none" stroke="#3a3a3a" stroke-width="1.2"/>
<circle cx="369" cy="442.5" r="28.64" fill="none" stroke="#f1c987" stroke-width="18.71"/>
<path d="M369,419.23 L373.98,411.07 L376.19,420.36 L383.45,414.14 L382.68,423.67 L391.5,420 L387.83,428.82 L397.36,428.05 L391.14,435.31 L400.43,437.52 L392.27,442.5 L400.43,447.48 L391.14,449.69 L397.36,456.95 L387.83,456.18 L391.5,465 L382.68,461.33 L383.45,470.86 L376.19,464.64 L373.98,473.93 L369,465.77 L364.02,473.93 L361.81,464.64 L354.55,470.86 L355.32,461.33 L346.5,465 L350.17,456.18 L340.64,456.95 L346.86,449.69 L337.57,447.48 L345.73,442.5 L337.57,437.52 L346.86,435.31 L340.64,428.05 L350.17,428.82 L346.5,420 L355.32,423.67 L354.55,414.14 L361.81,420.36 L364.02,411.07Z" fill="none" stroke="#fae4c0" stroke-width="2.09" stroke-dasharray="5.7 3.32" opacity="0.9"/>
<rect x="366.81" y="412.76" width="4.37" height="4.37" fill="#fae4c0" transform="rotate(-45 369 414.95)"/>
<rect x="375.33" y="414.11" width="4.37" height="4.37" fill="#fae4c0" transform="rotate(-27 377.51 416.3)"/>
<rect x="383.01" y="418.03" width="4.37" height="4.37" fill="#fae4c0" transform="rotate(-9 385.19 420.21)"/>
<rect x="389.1" y="424.12" width="4.37" height="4.37" fill="#fae4c0" transform="rotate(9 391.29 426.31)"/>
<rect x="393.02" y="431.8" width="4.37" height="4.37" fill="#fae4c0" transform="rotate(27 395.2 433.99)"/>
<rect x="394.37" y="440.31" width="4.37" height="4.37" fill="#fae4c0" transform="rotate(45 396.55 442.5)"/>
<rect x="393.02" y="448.83" width="4.37" height="4.37" fill="#fae4c0" transform="rotate(63 395.2 451.01)"/>
<rect x="389.1" y="456.51" width="4.37" height="4.37" fill="#fae4c0" transform="rotate(81 391.29 458.69)"/>
<rect x="383.01" y="462.6" width="4.37" height="4.37" fill="#fae4c0" transform="rotate(99 385.19 464.79)"/>
<rect x="375.33" y="466.52" width="4.37" height="4.37" fill="#fae4c0" transform="rotate(117 377.51 468.7)"/>
<rect x="366.81" y="467.87" width="4.37" height="4.37" fill="#fae4c0" transform="rotate(135 369 470.05)"/>
<rect x="358.3" y="466.52" width="4.37" height="4.37" fill="#fae4c0" transform="rotate(153 360.49 468.7)"/>
<rect x="350.62" y="462.6" width="4.37" height="4.37" fill="#fae4c0" transform="rotate(171 352.81 464.79)"/>
<rect x="344.53" y="456.51" width="4.37" height="4.37" fill="#fae4c0" transform="rotate(189 346.71 458.69)"/>
<rect x="340.61" y="448.83" width="4.37" height="4.37" fill="#fae4c0" transform="rotate(207 342.8 451.01)"/>
<rect x="339.26" y="440.31" width="4.37" height="4.37" fill="#fae4c0" transform="rotate(225 341.45 442.5)"/>
<rect x="340.61" y="431.8" width="4.37" height="4.37" fill="#fae4c0" transform="rotate(243 342.8 433.99)"/>
<rect x="344.53" y="424.12" width="4.37" height="4.37" fill="#fae4c0" transform="rotate(261 346.71 426.31)"/>
<rect x="350.62" y="418.03" width="4.37" height="4.37" fill="#fae4c0" transform="rotate(279 352.81 420.21)"/>
<rect x="358.3" y="414.11" width="4.37" height="4.37" fill="#fae4c0" transform="rotate(297 360.49 416.3)"/>
<circle cx="369" cy="424.17" r="4.37" fill="url(#bd)"/>
<circle cx="378.17" cy="426.62" r="4.37" fill="url(#bd)"/>
<circle cx="384.88" cy="433.33" r="4.37" fill="url(#bd)"/>
<circle cx="387.33" cy="442.5" r="4.37" fill="url(#bd)"/>
<circle cx="384.88" cy="451.67" r="4.37" fill="url(#bd)"/>
<circle cx="378.17" cy="458.38" r="4.37" fill="url(#bd)"/>
<circle cx="369" cy="460.83" r="4.37" fill="url(#bd)"/>
<circle cx="359.83" cy="458.38" r="4.37" fill="url(#bd)"/>
<circle cx="353.12" cy="451.67" r="4.37" fill="url(#bd)"/>
<circle cx="350.67" cy="442.5" r="4.37" fill="url(#bd)"/>
<circle cx="353.12" cy="433.33" r="4.37" fill="url(#bd)"/>
<circle cx="359.83" cy="426.62" r="4.37" fill="url(#bd)"/>
<circle cx="369" cy="403.07" r="6.08" fill="url(#bd)"/>
<circle cx="381.18" cy="405" r="6.08" fill="url(#bd)"/>
<circle cx="392.17" cy="410.6" r="6.08" fill="url(#bd)"/>
<circle cx="400.9" cy="419.33" r="6.08" fill="url(#bd)"/>
<circle cx="406.5" cy="430.32" r="6.08" fill="url(#bd)"/>
<circle cx="408.43" cy="442.5" r="6.08" fill="url(#bd)"/>
<circle cx="406.5" cy="454.68" r="6.08" fill="url(#bd)"/>
<circle cx="400.9" cy="465.67" r="6.08" fill="url(#bd)"/>
<circle cx="392.17" cy="474.4" r="6.08" fill="url(#bd)"/>
<circle cx="381.18" cy="480" r="6.08" fill="url(#bd)"/>
<circle cx="369" cy="481.93" r="6.08" fill="url(#bd)"/>
<circle cx="356.82" cy="480" r="6.08" fill="url(#bd)"/>
<circle cx="345.83" cy="474.4" r="6.08" fill="url(#bd)"/>
<circle cx="337.1" cy="465.67" r="6.08" fill="url(#bd)"/>
<circle cx="331.5" cy="454.68" r="6.08" fill="url(#bd)"/>
<circle cx="329.57" cy="442.5" r="6.08" fill="url(#bd)"/>
<circle cx="331.5" cy="430.32" r="6.08" fill="url(#bd)"/>
<circle cx="337.1" cy="419.33" r="6.08" fill="url(#bd)"/>
<circle cx="345.83" cy="410.6" r="6.08" fill="url(#bd)"/>
<circle cx="356.82" cy="405" r="6.08" fill="url(#bd)"/>
<path d="M327.4,461.5 L329.05,461.79 L330.06,459.92 L331.92,460.93 L332.93,459.07 L334.79,460.08 L335.8,458.21 L337.66,459.22 L338.67,457.35 L340.54,458.36 L341.54,456.5 L343.41,457.5 L344.41,455.64 L346.28,456.65 L347.5,455.5" fill="none" stroke="#f49a58" stroke-width="2.2" stroke-linecap="round"/>
<path d="M391.7,451.5 L392.48,452.92 L394.52,452.48 L394.88,454.52 L396.92,454.08 L397.28,456.12 L399.32,455.68 L399.68,457.72 L401.72,457.28 L402.08,459.32 L404.12,458.88 L404.48,460.92 L406.52,460.48 L406.88,462.52 L408.92,462.08 L409.7,463.5" fill="none" stroke="#f49a58" stroke-width="2.2" stroke-linecap="round"/>
<circle cx="299.5" cy="549.5" r="28.64" fill="none" stroke="#f1c987" stroke-width="18.71"/>
<path d="M302.74,526.45 L308.8,519.07 L309.7,528.58 L317.75,523.43 L315.67,532.76 L324.92,530.35 L320.05,538.57 L329.59,539.14 L322.42,545.46 L331.32,548.94 L322.55,552.74 L329.93,558.8 L320.42,559.7 L325.57,567.75 L316.24,565.67 L318.65,574.92 L310.43,570.05 L309.86,579.59 L303.54,572.42 L300.06,581.32 L296.26,572.55 L290.2,579.93 L289.3,570.42 L281.25,575.57 L283.33,566.24 L274.08,568.65 L278.95,560.43 L269.41,559.86 L276.58,553.54 L267.68,550.06 L276.45,546.26 L269.07,540.2 L278.58,539.3 L273.43,531.25 L282.76,533.33 L280.35,524.08 L288.57,528.95 L289.14,519.41 L295.46,526.58 L298.94,517.68Z" fill="none" stroke="#fae4c0" stroke-width="2.09" stroke-dasharray="5.7 3.32" opacity="0.9"/>
<rect x="301.15" y="520.03" width="4.37" height="4.37" fill="#fae4c0" transform="rotate(-37 303.33 522.22)"/>
<rect x="309.39" y="522.55" width="4.37" height="4.37" fill="#fae4c0" transform="rotate(-19 311.58 524.74)"/>
<rect x="316.45" y="527.5" width="4.37" height="4.37" fill="#fae4c0" transform="rotate(-1 318.64 529.68)"/>
<rect x="321.64" y="534.38" width="4.37" height="4.37" fill="#fae4c0" transform="rotate(17 323.83 536.57)"/>
<rect x="324.45" y="542.53" width="4.37" height="4.37" fill="#fae4c0" transform="rotate(35 326.63 544.72)"/>
<rect x="324.6" y="551.15" width="4.37" height="4.37" fill="#fae4c0" transform="rotate(53 326.78 553.33)"/>
<rect x="322.08" y="559.39" width="4.37" height="4.37" fill="#fae4c0" transform="rotate(71 324.26 561.58)"/>
<rect x="317.13" y="566.45" width="4.37" height="4.37" fill="#fae4c0" transform="rotate(89 319.32 568.64)"/>
<rect x="310.25" y="571.64" width="4.37" height="4.37" fill="#fae4c0" transform="rotate(107 312.43 573.83)"/>
<rect x="302.1" y="574.45" width="4.37" height="4.37" fill="#fae4c0" transform="rotate(125 304.28 576.63)"/>
<rect x="293.48" y="574.6" width="4.37" height="4.37" fill="#fae4c0" transform="rotate(143 295.67 576.78)"/>
<rect x="285.24" y="572.08" width="4.37" height="4.37" fill="#fae4c0" transform="rotate(161 287.42 574.26)"/>
<rect x="278.18" y="567.13" width="4.37" height="4.37" fill="#fae4c0" transform="rotate(179 280.36 569.32)"/>
<rect x="272.99" y="560.25" width="4.37" height="4.37" fill="#fae4c0" transform="rotate(197 275.17 562.43)"/>
<rect x="270.18" y="552.1" width="4.37" height="4.37" fill="#fae4c0" transform="rotate(215 272.37 554.28)"/>
<rect x="270.03" y="543.48" width="4.37" height="4.37" fill="#fae4c0" transform="rotate(233 272.22 545.67)"/>
<rect x="272.55" y="535.24" width="4.37" height="4.37" fill="#fae4c0" transform="rotate(251 274.74 537.42)"/>
<rect x="277.5" y="528.18" width="4.37" height="4.37" fill="#fae4c0" transform="rotate(269 279.68 530.36)"/>
<rect x="284.38" y="522.99" width="4.37" height="4.37" fill="#fae4c0" transform="rotate(287 286.57 525.17)"/>
<rect x="292.53" y="520.18" width="4.37" height="4.37" fill="#fae4c0" transform="rotate(305 294.72 522.37)"/>
<circle cx="302.05" cy="531.34" r="4.37" fill="url(#bd)"/>
<circle cx="310.79" cy="535.05" r="4.37" fill="url(#bd)"/>
<circle cx="316.5" cy="542.63" r="4.37" fill="url(#bd)"/>
<circle cx="317.66" cy="552.05" r="4.37" fill="url(#bd)"/>
<circle cx="313.95" cy="560.79" r="4.37" fill="url(#bd)"/>
<circle cx="306.37" cy="566.5" r="4.37" fill="url(#bd)"/>
<circle cx="296.95" cy="567.66" r="4.37" fill="url(#bd)"/>
<circle cx="288.21" cy="563.95" r="4.37" fill="url(#bd)"/>
<circle cx="282.5" cy="556.37" r="4.37" fill="url(#bd)"/>
<circle cx="281.34" cy="546.95" r="4.37" fill="url(#bd)"/>
<circle cx="285.05" cy="538.21" r="4.37" fill="url(#bd)"/>
<circle cx="292.63" cy="532.5" r="4.37" fill="url(#bd)"/>
<circle cx="304.99" cy="510.46" r="6.57" fill="#4cc4ea"/>
<rect x="301.29" y="509.16" width="7.4" height="2.6" fill="#1b1b1b"/>
<circle cx="316.78" cy="514.07" r="6.08" fill="url(#bd)"/>
<circle cx="326.89" cy="521.14" r="6.57" fill="#4cc4ea"/>
<rect x="323.19" y="519.84" width="7.4" height="2.6" fill="#1b1b1b"/>
<circle cx="334.31" cy="530.99" r="6.08" fill="url(#bd)"/>
<circle cx="338.33" cy="542.65" r="6.57" fill="#4cc4ea"/>
<rect x="334.63" y="541.35" width="7.4" height="2.6" fill="#1b1b1b"/>
<circle cx="338.54" cy="554.99" r="6.08" fill="url(#bd)"/>
<circle cx="334.93" cy="566.78" r="6.57" fill="#4cc4ea"/>
<rect x="331.23" y="565.48" width="7.4" height="2.6" fill="#1b1b1b"/>
<circle cx="327.86" cy="576.89" r="6.08" fill="url(#bd)"/>
<circle cx="318.01" cy="584.31" r="6.57" fill="#4cc4ea"/>
<rect x="314.31" y="583.01" width="7.4" height="2.6" fill="#1b1b1b"/>
<circle cx="306.35" cy="588.33" r="6.08" fill="url(#bd)"/>
<circle cx="294.01" cy="588.54" r="6.57" fill="#4cc4ea"/>
<rect x="290.31" y="587.24" width="7.4" height="2.6" fill="#1b1b1b"/>
<circle cx="282.22" cy="584.93" r="6.08" fill="url(#bd)"/>
<circle cx="272.11" cy="577.86" r="6.57" fill="#4cc4ea"/>
<rect x="268.41" y="576.56" width="7.4" height="2.6" fill="#1b1b1b"/>
<circle cx="264.69" cy="568.01" r="6.08" fill="url(#bd)"/>
<circle cx="260.67" cy="556.35" r="6.57" fill="#4cc4ea"/>
<rect x="256.97" y="555.05" width="7.4" height="2.6" fill="#1b1b1b"/>
<circle cx="260.46" cy="544.01" r="6.08" fill="url(#bd)"/>
<circle cx="264.07" cy="532.22" r="6.57" fill="#4cc4ea"/>
<rect x="260.37" y="530.92" width="7.4" height="2.6" fill="#1b1b1b"/>
<circle cx="271.14" cy="522.11" r="6.08" fill="url(#bd)"/>
<circle cx="280.99" cy="514.69" r="6.57" fill="#4cc4ea"/>
<rect x="277.29" y="513.39" width="7.4" height="2.6" fill="#1b1b1b"/>
<circle cx="292.65" cy="510.67" r="6.08" fill="url(#bd)"/>
<path d="M305.5,509 L304.51,510.29 L305.74,511.96 L304.01,513.12 L305.24,514.8 L303.51,515.95 L304.74,517.63 L303.01,518.79 L304.24,520.46 L302.51,521.62 L303.74,523.3 L302.01,524.45 L302.5,526" fill="none" stroke="#f49a58" stroke-width="2.2" stroke-linecap="round"/>
<path d="M336.8,576.8 L336.36,575.2 L334.26,575.12 L334.38,573.02 L332.28,572.94 L332.39,570.83 L330.29,570.75 L330.41,568.65 L328.31,568.57 L328.42,566.46 L326.32,566.38 L326.44,564.28 L324.34,564.2 L323.9,562.6" fill="none" stroke="#f49a58" stroke-width="2.2" stroke-linecap="round"/>
<circle cx="227.9" cy="468.9" r="14.7" fill="#d0e49c" stroke="#a0d084" stroke-width="1"/>
<path d="M222.3,468.9 H233.5 M227.9,463.3 V474.5" stroke="#1e1e1e" stroke-width="3.0"/>
<circle cx="240.2" cy="517.2" r="13.2" fill="#d3e5a5" stroke="#a5d28c" stroke-width="1"/>
<path d="M234.6,517.2 H245.8 M240.2,511.6 V522.8" stroke="#2f3028" stroke-width="3.0"/>
<circle cx="240.1" cy="557.3" r="12.3" fill="#d9e6b0" stroke="#a9d49a" stroke-width="1"/>
<path d="M234.5,557.3 H245.7 M240.1,551.7 V562.9" stroke="#3c3d32" stroke-width="3.0"/>
<circle cx="254.5" cy="591.1" r="10.9" fill="#dde8bb" stroke="#b5d8a5" stroke-width="1"/>
<path d="M249.3,591.1 H259.7 M254.5,585.9 V596.3" stroke="#5a5d4c" stroke-width="2.7"/>
<circle cx="299.7" cy="615.6" r="10.3" fill="#e0e9c3" stroke="#bcdcae" stroke-width="1"/>
<path d="M294.5,615.6 H304.9 M299.7,610.4 V620.8" stroke="#6b6d5d" stroke-width="2.7"/>
<path d="M204.5,473.8 L237.4,480.4 L256.3,490.1 L254.6,505 L260.2,526 L243,533 L251.6,541.7 L250.2,566 L240,584.1 L263.7,580.9 L269,589 L265.8,595.5 L268.5,603 L281,602 L288.4,595.5 L300.3,600.8 L300.8,606.2" fill="none" stroke="#505050" stroke-width="1.1" stroke-dasharray="1.5 1.6"/>
<path d="M209,470.5 L204.3,473.6 L208.8,477.2" fill="none" stroke="#333" stroke-width="1.3"/>
<circle cx="426.6" cy="556.6" r="28.64" fill="none" stroke="#f1c987" stroke-width="18.71"/>
<path d="M424.57,533.41 L428.82,524.85 L431.84,533.92 L438.52,527.09 L438.59,536.65 L447.06,532.22 L444.17,541.33 L453.59,539.74 L448.02,547.51 L457.48,548.9 L449.79,554.57 L458.35,558.82 L449.28,561.84 L456.11,568.52 L446.55,568.59 L450.98,577.06 L441.87,574.17 L443.46,583.59 L435.69,578.02 L434.3,587.48 L428.63,579.79 L424.38,588.35 L421.36,579.28 L414.68,586.11 L414.61,576.55 L406.14,580.98 L409.03,571.87 L399.61,573.46 L405.18,565.69 L395.72,564.3 L403.41,558.63 L394.85,554.38 L403.92,551.36 L397.09,544.68 L406.65,544.61 L402.22,536.14 L411.33,539.03 L409.74,529.61 L417.51,535.18 L418.9,525.72Z" fill="none" stroke="#fae4c0" stroke-width="2.09" stroke-dasharray="5.7 3.32" opacity="0.9"/>
<rect x="422.01" y="526.97" width="4.37" height="4.37" fill="#fae4c0" transform="rotate(-50 424.2 529.15)"/>
<rect x="430.61" y="527.57" width="4.37" height="4.37" fill="#fae4c0" transform="rotate(-32 432.8 529.76)"/>
<rect x="438.6" y="530.8" width="4.37" height="4.37" fill="#fae4c0" transform="rotate(-14 440.79 532.99)"/>
<rect x="445.21" y="536.34" width="4.37" height="4.37" fill="#fae4c0" transform="rotate(4 447.39 538.53)"/>
<rect x="449.77" y="543.65" width="4.37" height="4.37" fill="#fae4c0" transform="rotate(22 451.96 545.84)"/>
<rect x="451.86" y="552.01" width="4.37" height="4.37" fill="#fae4c0" transform="rotate(40 454.05 554.2)"/>
<rect x="451.26" y="560.61" width="4.37" height="4.37" fill="#fae4c0" transform="rotate(58 453.44 562.8)"/>
<rect x="448.03" y="568.6" width="4.37" height="4.37" fill="#fae4c0" transform="rotate(76 450.21 570.79)"/>
<rect x="442.49" y="575.21" width="4.37" height="4.37" fill="#fae4c0" transform="rotate(94 444.67 577.39)"/>
<rect x="435.18" y="579.77" width="4.37" height="4.37" fill="#fae4c0" transform="rotate(112 437.36 581.96)"/>
<rect x="426.82" y="581.86" width="4.37" height="4.37" fill="#fae4c0" transform="rotate(130 429 584.05)"/>
<rect x="418.22" y="581.26" width="4.37" height="4.37" fill="#fae4c0" transform="rotate(148 420.4 583.44)"/>
<rect x="410.23" y="578.03" width="4.37" height="4.37" fill="#fae4c0" transform="rotate(166 412.41 580.21)"/>
<rect x="403.62" y="572.49" width="4.37" height="4.37" fill="#fae4c0" transform="rotate(184 405.81 574.67)"/>
<rect x="399.06" y="565.18" width="4.37" height="4.37" fill="#fae4c0" transform="rotate(202 401.24 567.36)"/>
<rect x="396.97" y="556.82" width="4.37" height="4.37" fill="#fae4c0" transform="rotate(220 399.15 559)"/>
<rect x="397.57" y="548.22" width="4.37" height="4.37" fill="#fae4c0" transform="rotate(238 399.76 550.4)"/>
<rect x="400.8" y="540.23" width="4.37" height="4.37" fill="#fae4c0" transform="rotate(256 402.99 542.41)"/>
<rect x="406.34" y="533.62" width="4.37" height="4.37" fill="#fae4c0" transform="rotate(274 408.53 535.81)"/>
<rect x="413.65" y="529.06" width="4.37" height="4.37" fill="#fae4c0" transform="rotate(292 415.84 531.24)"/>
<circle cx="425" cy="538.33" r="4.37" fill="url(#bd)"/>
<circle cx="434.35" cy="539.98" r="4.37" fill="url(#bd)"/>
<circle cx="441.62" cy="546.08" r="4.37" fill="url(#bd)"/>
<circle cx="444.87" cy="555" r="4.37" fill="url(#bd)"/>
<circle cx="443.22" cy="564.35" r="4.37" fill="url(#bd)"/>
<circle cx="437.12" cy="571.62" r="4.37" fill="url(#bd)"/>
<circle cx="428.2" cy="574.87" r="4.37" fill="url(#bd)"/>
<circle cx="418.85" cy="573.22" r="4.37" fill="url(#bd)"/>
<circle cx="411.58" cy="567.12" r="4.37" fill="url(#bd)"/>
<circle cx="408.33" cy="558.2" r="4.37" fill="url(#bd)"/>
<circle cx="409.98" cy="548.85" r="4.37" fill="url(#bd)"/>
<circle cx="416.08" cy="541.58" r="4.37" fill="url(#bd)"/>
<circle cx="423.16" cy="517.33" r="6.08" fill="url(#bd)"/>
<circle cx="435.47" cy="518.19" r="6.08" fill="url(#bd)"/>
<circle cx="446.91" cy="522.81" r="6.08" fill="url(#bd)"/>
<circle cx="456.35" cy="530.73" r="6.08" fill="url(#bd)"/>
<circle cx="462.89" cy="541.2" r="6.08" fill="#ee4a8c"/>
<circle cx="465.87" cy="553.16" r="6.08" fill="url(#bd)"/>
<circle cx="465.01" cy="565.47" r="6.08" fill="#ee4a8c"/>
<circle cx="460.39" cy="576.91" r="6.08" fill="url(#bd)"/>
<circle cx="452.47" cy="586.35" r="6.08" fill="#ee4a8c"/>
<circle cx="442" cy="592.89" r="6.08" fill="url(#bd)"/>
<circle cx="430.04" cy="595.87" r="6.08" fill="#ee4a8c"/>
<circle cx="417.73" cy="595.01" r="6.08" fill="url(#bd)"/>
<circle cx="406.29" cy="590.39" r="6.08" fill="url(#bd)"/>
<circle cx="396.85" cy="582.47" r="6.08" fill="url(#bd)"/>
<circle cx="390.31" cy="572" r="6.08" fill="url(#bd)"/>
<circle cx="387.33" cy="560.04" r="6.08" fill="url(#bd)"/>
<circle cx="388.19" cy="547.73" r="6.08" fill="url(#bd)"/>
<circle cx="392.81" cy="536.29" r="6.08" fill="url(#bd)"/>
<circle cx="400.73" cy="526.85" r="6.08" fill="url(#bd)"/>
<circle cx="411.2" cy="520.31" r="6.08" fill="url(#bd)"/>
<path d="M431.6,513 L430.39,514.06 L431.27,515.93 L429.36,516.71 L430.24,518.59 L428.33,519.37 L429.21,521.24 L427.3,522.03 L428.19,523.9 L426.27,524.69 L427.16,526.56 L425.24,527.34 L426.13,529.21 L424.21,530 L424.4,531.6" fill="none" stroke="#f49a58" stroke-width="2.2" stroke-linecap="round"/>
<path d="M390,580.3 L391.62,580.39 L392.33,578.43 L394.26,579.21 L394.96,577.25 L396.89,578.03 L397.59,576.07 L399.52,576.84 L400.23,574.88 L402.16,575.66 L402.86,573.7 L404.79,574.48 L405.8,573.2" fill="none" stroke="#f49a58" stroke-width="2.2" stroke-linecap="round"/>
<path d="M468,539 Q472,539 474,537 Q476,535 478,534" fill="none" stroke="#ee4a8c" stroke-width="1.6" stroke-linecap="round"/>
<path d="M493,531 Q497,531 499,528 Q501,525 503,524" fill="none" stroke="#f07f86" stroke-width="1.6" stroke-linecap="round"/>
<path d="M470,566 Q473,568 475,567 Q477,566 479,566.5" fill="none" stroke="#ee4a8c" stroke-width="1.6" stroke-linecap="round"/>
<path d="M457,591 Q460,593 460,596 Q460,598 462,599" fill="none" stroke="#ee4a8c" stroke-width="1.6" stroke-linecap="round"/>
<path d="M474,609 Q477,611 478,614 Q479,617 480,618" fill="none" stroke="#f07f86" stroke-width="1.6" stroke-linecap="round"/>
<path d="M430.5,603 Q427,606 429,609 Q431,611 430,613" fill="none" stroke="#ee4a8c" stroke-width="1.6" stroke-linecap="round"/>
<path d="M500.5,583 Q503,579 506,579 Q508,579 509,577" fill="none" stroke="#f07f86" stroke-width="1.6" stroke-linecap="round"/>
<path d="M441,647 Q445,648 447,647.5 Q449,647 451,649" fill="none" stroke="#f07f86" stroke-width="1.6" stroke-linecap="round"/>
<circle cx="512.8" cy="522.9" r="12.4" fill="#d2e5a2" stroke="#a6d38c" stroke-width="1.2"/>
<circle cx="518.4" cy="572.6" r="12.6" fill="#d2e5a2" stroke="#a6d38c" stroke-width="1.2"/>
<circle cx="486.9" cy="626.1" r="12.6" fill="#d2e5a2" stroke="#a6d38c" stroke-width="1.2"/>
<circle cx="428.9" cy="643.1" r="12.6" fill="#d2e5a2" stroke="#a6d38c" stroke-width="1.2"/>
<g transform="translate(484 533.3) rotate(0)"><circle r="9.7" fill="#ee4a8c"/><path d="M-1.7,-9.55 A9.7,9.7 0 0 1 2.5,9.37 C0,6.5 -3.8,3.5 -2.4,0.3 C-1,-2.5 1.2,-6 -1.7,-9.55 Z" fill="#f07f86"/></g>
<g transform="translate(466.8 602.9) rotate(20)"><circle r="9.7" fill="#ee4a8c"/><path d="M-1.7,-9.55 A9.7,9.7 0 0 1 2.5,9.37 C0,6.5 -3.8,3.5 -2.4,0.3 C-1,-2.5 1.2,-6 -1.7,-9.55 Z" fill="#f07f86"/></g>
<path d="M487.5,560.9 A6.75,6.75 0 0 0 487.5,574.4" fill="none" stroke="#ee4a8c" stroke-width="5.1"/>
<path d="M423.1,620.5 A6.8,6.8 0 0 1 436.7,620.5" fill="none" stroke="#ee4a8c" stroke-width="5.1"/>
<circle cx="494.8" cy="585.5" r="6.8" fill="#f07f86"/><circle cx="492" cy="591" r="4.6" fill="#f07f86"/><circle cx="488.3" cy="579.3" r="3.6" fill="#edebee"/>
<circle cx="455" cy="651.5" r="6.8" fill="#f07f86"/><circle cx="457" cy="656.5" r="4.6" fill="#f07f86"/><circle cx="461.7" cy="645.2" r="3.6" fill="#edebee"/>
<path d="M501.6,541.5 V556" stroke="#333" stroke-width="1.2"/><path d="M499.3,553.2 L501.6,557.5 L503.9,553.2" fill="none" stroke="#333" stroke-width="1.2"/>
<path d="M509.7,542.5 V557" stroke="#555" stroke-width="1.2"/><path d="M507.4,545.3 L509.7,541 L512,545.3" fill="none" stroke="#555" stroke-width="1.2"/>
<path d="M461.6,624.7 L448.5,629.8 M448.5,629.8 L451.5,627.2" fill="none" stroke="#444" stroke-width="1.3"/>
<path d="M450.8,637.7 L464.3,631.7 M464.3,631.7 L461.5,634.6" fill="none" stroke="#444" stroke-width="1.3"/>
<path d="M489.4,547.4 Q495,561 491,573 Q486,586 485.6,600.5 L464.4,610.8 L431.3,624.2 L425,632 L405,660" fill="none" stroke="#555" stroke-width="1" stroke-dasharray="1.4 1.8"/>
<path d="M404.3,654.5 L404.6,661 L411,659" fill="none" stroke="#333" stroke-width="1.2"/>
<path d="M325.25,462.5 L325.63,459.84 L323.04,459.16 L323.44,456.5 L320.83,455.85 L321.15,453.18 L318.52,452.64 L318.68,449.94 L316,449.66 L315.88,446.97 L313.2,446.9 L312.87,444.22 L310.2,444.42 L309.48,441.82 L306.95,442.62 L305.3,440.49 L303.5,442.51 L301.07,441.49 L300.02,444 L297.43,443.28 L296.47,445.78 L293.85,445.2 L293.09,447.79 L290.43,447.38 L289.81,450 L287.14,449.7 L286.56,452.33 L283.88,452.01 L283.33,454.63 L280.63,454.5 L280.45,457.17 L277.79,457.57 L278.22,460.23 L275.71,461.18 L276.55,463.74 L274.16,464.95 L275.21,467.43 L272.89,468.8 L274.06,471.22 L271.82,472.73 L273.23,475.02 L271.21,476.79 L272.86,478.92 L270.95,480.8 L272.59,482.95 L270.54,484.72 L272.08,486.9 L270.19,488.85 L272.2,490.55 L271.4,493.08 L274.08,493.53 L274.37,496.19 L277.04,495.84 L277.95,498.37 L280.47,497.45 L281.98,499.68 L284.14,498.03 L286.16,499.78 L288.05,497.85 L290.17,499.48 L292.09,497.58 L294.06,499.42 L296.18,497.77 L297.98,499.78 L300.18,498.23 L301.95,500.27 L304.13,498.7 L305.98,500.66 L308.04,498.93 L310.08,500.66 L311.97,498.73 L314.06,500.41 L316.04,498.56 L317.93,500.46 L320.16,499 L321.74,501.19 L324.13,499.94 L325.5,502.25 L328.02,501.28 L329.05,503.76 L331.69,503.26 L332.16,505.9 L334.83,506.08 L334.64,508.77 L337.24,509.43 L336.72,512.08 L339.26,512.95 L338.63,515.57 L341.16,516.46 L340.58,519.07 L343.12,519.97 L342.43,522.57 L344.92,523.58 L344.16,526.16 L346.64,527.2 L345.89,529.78 L348.4,530.74 L347.79,533.36 L350.35,534.21 L349.74,536.83 L352.27,537.78 L351.44,540.34 L353.82,541.61 L352.61,544.02 L354.77,545.6 L353.31,547.87 L355.35,549.62 L353.76,551.8 L355.72,553.64 L354.08,555.78 L356.06,557.6 L354.49,559.77 L356.46,561.63 L354.67,563.6 L356.08,565.92 L353.61,566.91 L353.58,569.55 L350.87,569.33 L350.18,571.91 L347.51,571.5 L346.92,574.15 L344.25,573.78 L343.54,576.36 L340.87,575.94 L340.31,578.55 L337.56,578.65 L338.21,581.19 L336.32,582.89 L337.99,585.17 L335.46,586.11 L335.32,588.71 L332.58,588.65 L332.51,591.27 L330,592.16 L331.21,594.53 L329.48,596.62 L332.03,597.7 L331.58,600.17 L333.72,601.87 L331.01,602.83 L331.34,605.24 L329.66,607.16 L332.5,607.39 L333.21,609.94 L335.85,609.35 L336.69,611.88 L339.35,611.48 L339.83,614.15 L342.49,613.99 L343.14,616.64 L345.63,615.82 L347.43,617.76 L349.11,615.58 L351.47,616.75 L353.16,614.56 L354.83,616.54 L357.37,616.22 L357.37,618.96 L359.98,619.42 L360.06,622.22 L362.46,621.35 L364.59,622.64" fill="none" stroke="#3b6a91" stroke-width="1.9" stroke-linejoin="round"/>
<path d="M328.07,460.6 L321.7,460.04 L323.63,453.93 L316.67,452.86 M315.49,444.39 L309.28,445.73 L307.99,439.39 L303.16,444.3 M294.87,442.78 L293.95,449.13 L287.85,447.22 L286.66,454.22 M277.96,454.86 L279.61,461.03 L273.41,462.44 L276.43,468.86 M269.87,474.51 L274.45,479.03 L269.21,482.6 L273.6,487.91 M271.63,495.89 L277.88,494.47 L279.42,500.68 L285.07,496.43 M292.15,500.98 L296.33,496.18 L299.77,501.61 L305.24,497.19 M312.19,502.13 L316.06,496.96 L319.53,502.34 L325.59,498.71 M329.77,506.06 L336.04,505.03 L334.36,511.24 L341.15,513.07 M340.11,521.56 L346.36,522.88 L343.57,528.66 L350.27,530.84 M349.21,539.26 L355.34,541.12 L351.43,546.22 L357.05,550.47 M352.67,557.95 L358.06,561.56 L352.85,564.87 L353.72,571.48 M344.97,571.37 L344.4,577.71 L338.17,575.91 L339.7,582.23 M333.07,586.17 L333.79,592.23 L327.83,594.11 L333.98,597.67 M328.15,604.06 L333.45,606.11 L334.19,612.32 L341.15,610.85 M344.76,619.11 L348.71,614.03 L353.31,617.96 L359.3,615.95" fill="none" stroke="#3b6a91" stroke-width="5.6" stroke-linejoin="miter" stroke-miterlimit="2.2"/>
<path d="M326.9,461.94 L325.23,464.05 L327.14,465.94 L325.48,468.06 L327.47,469.87 L325.98,472.12 L328.17,473.67 L327.08,476.11 L329.49,477.31 L328.71,479.88 L331.24,480.78 L330.77,483.44 L333.41,484 L333.27,486.69 L335.93,486.93 L336.27,489.62 L338.9,489.17 L340.1,491.58 L342.38,490.14 L344.35,491.92 L346.22,489.96 L348.38,491.55 L350.25,489.6 L352.27,491.36 L354.36,489.68 L356.18,491.67 L358.37,490.12 L360.12,492.17 L362.35,490.66 L364.08,492.72 L366.31,491.22 L368.05,493.27 L370.25,491.72 L372.05,493.73 L374.2,492.14 L376.12,494.05 L378.06,492.19 L380.24,493.76 L381.9,491.63 L384.24,492.94 L385.74,490.69 L388.13,491.92 L389.57,489.65 L392.03,490.77 L393.25,488.39 L395.83,489.14 L396.65,486.57 L399.32,486.93 L399.75,484.28 L402.44,484.2 L402.42,481.51 L405.05,481.01 L404.69,478.34 L407.27,477.59 L406.7,474.97 L409.22,474 L408.37,471.48 L410.65,470 L408.91,467.95 L410.33,465.72" fill="none" stroke="#3b6a91" stroke-width="1.9" stroke-linejoin="round"/>
<path d="M323.51,462.17 L328.74,465.84 L324.09,470.28 L329.98,474.09 M328.3,482.49 L334.68,483.03 L333.56,489.37 L340.32,488.06 M346.54,493.35 L350.17,488 L354.09,493.07 L359.58,488.66 M365.84,494.59 L370.44,490.13 L373.93,495.53 L378.85,490.51 M386.6,493.97 L389.12,488.12 L394.59,491.51 L396.56,484.72 M405.05,483.66 L403.35,477.47 L409.69,476.59 L407.13,470.21" fill="none" stroke="#3b6a91" stroke-width="5.6" stroke-linejoin="miter" stroke-miterlimit="2.2"/>
<path d="M408.54,463.23 L411.17,463.74 L411.97,461.18 L414.63,461.64 L415.21,459.03 L417.94,459.03 L417.65,456.36 L420.07,455.34 L419.22,452.72 L421.76,452.01 L421.96,449.39 L424.66,449.67 L425.41,447.08 L428,447.76 L429.23,445.35 L431.52,446.68 L433.6,444.98 L434.92,447.35 L437.52,446.82 L438.05,449.47 L440.73,449.39 L441.02,452.07 L443.7,452.08 L444.03,454.73 L446.73,454.72 L446.93,457.4 L449.62,457.56 L449.67,460.26 L452.34,460.52 L452.36,463.22 L455.05,463.47 L455.02,466.14 L457.67,466.63 L457.25,469.28 L459.77,470.17 L459.05,472.77 L461.52,473.84 L460.62,476.37 L462.99,477.65 L461.82,480.06 L463.96,481.71 L462.24,483.77 L463.77,485.95 L461.54,487.49 L462.68,489.91 L460.35,491.3 L461.6,493.67 L459.51,495.33 L461.04,497.58 L458.93,499.19 L459.98,501.69 L457.39,502.43 L457.34,505.09 L454.65,505.02 L454.05,507.64 L451.43,507.06 L450.23,509.5 L448.03,508.05 L445.8,509.43 L444.6,506.97 L442.06,507.71 L440.86,505.25 L438.53,506.6 L436.64,504.72 L434.69,506.61 L432.62,504.93 L430.61,506.74 L428.77,504.76 L426.53,506.25 L424.88,504.11 L422.59,505.5 L420.96,503.37 L418.62,504.71 L417.13,502.44 L414.78,503.7 L413.04,501.62 L411.12,503.49 L408.77,502.24 L407.58,504.67 L404.99,504 L404.22,506.58 L401.55,506.22 L401.05,508.86 L398.37,508.81 L398.18,511.5 L395.5,511.71 L395.53,514.41 L392.86,514.81 L393.13,517.48 L390.54,518.17 L391.03,520.83 L388.45,521.58 L388.84,524.24 L386.2,524.78 L386.33,527.46 L383.66,527.8 L383.69,530.49 L381.02,530.81 L381.11,533.5 L378.45,533.96 L378.75,536.62 L376.18,537.37 L376.78,540 L374.28,540.97 L375.09,543.54 L372.67,544.71 L373.69,547.2 L371.37,548.58 L372.59,550.97 L370.4,552.53 L371.8,554.83 L369.72,556.53 L371.25,558.74 L369.27,560.56 L370.96,562.65 L369.14,564.65 L371.07,566.48 L369.86,568.95 L372.48,569.41 L373.24,571.87 L375.95,571.12 L376.25,573.69 L378.59,574.72 L377.32,577.21 L379.65,578.27 L379.91,580.87 L382.55,580.04 L383.8,582.37 L386.44,581.56 L386.67,584.12 L388.89,585.38 L387.2,587.57 L389.07,589.4 L387.87,591.82 L390.5,592.61 L390.28,595.23 L392.96,596.09 L391.34,597.98 L391.49,600.4 L388.65,600.54 L389.36,602.98 L387.92,605.02 L390.32,606.41 L389.09,608.67 L390.53,610.93 L387.79,611.35 L387.22,613.93 L384.58,613.33 L383.6,615.82 L381.04,615.05 L379.82,617.45 L377.37,616.28 L375.93,618.54 L373.49,617.42 L372.18,619.78 L369.7,618.74 L368.41,621.11 L365.92,620.07" fill="none" stroke="#3b6a91" stroke-width="1.9" stroke-linejoin="round"/>
<path d="M410.29,466.14 L411.13,459.82 L417.3,461.71 L416.6,454.83 M424.11,452.02 L424.61,445.69 L430.21,448.6 L435.2,443.77 M438.49,451.95 L444.76,450.88 L444.43,457.22 L451.48,457.2 M452.54,465.75 L458.98,465.7 L456.75,471.74 L463.4,474.16 M460.58,482.09 L465.34,486.24 L459.43,488.9 L463.01,494.89 M456.92,500.23 L458.44,506.25 L452.23,504.77 L449.36,511.35 M443.48,504.62 L438.34,508.18 L434.52,503.21 L429.44,508.26 M423.22,502.16 L418.25,506.27 L415.46,500.37 L410.61,505.24 M402.37,503.73 L402.06,510.1 L395.76,509.11 L396.14,516.18 M388.13,519.06 L390.15,525.16 L383.73,525.27 L384.24,532.29 M375.93,534.74 L378.2,540.74 L371.96,542.2 L374.91,548.62 M368.45,554.25 L372.84,558.91 L367.56,562.55 L372.76,566.91 M374.14,574 L380.12,574.24 L376.87,580.22 L384.02,578.85 M385.54,585.96 L390.66,589.16 L387.73,594.59 L394.88,597.33 M386.01,602.46 L391.85,605.93 L387.45,609.48 L387.1,615.84 M378.74,614.22 L376.39,620.07 L371.06,616.57 L368,622.95" fill="none" stroke="#3b6a91" stroke-width="5.6" stroke-linejoin="miter" stroke-miterlimit="2.2"/>
<line x1="365.5" y1="515.7" x2="365.5" y2="695.7" stroke="#ffffff" stroke-width="5.2"/>
<line x1="365.5" y1="515.7" x2="209.62" y2="425.7" stroke="#ffffff" stroke-width="5.2"/>
<line x1="365.5" y1="515.7" x2="521.38" y2="425.7" stroke="#ffffff" stroke-width="5.2"/>
<circle cx="365.5" cy="515.7" r="2.6" fill="#ffffff"/>
<rect x="234" y="412.9" width="88" height="18.6" rx="9.3" fill="#d1d6dd"/>
<text x="239.5" y="426.5" font-size="13.5" fill="#5a5a5a" font-weight="normal" textLength="80.3" lengthAdjust="spacingAndGlyphs">Protein cargo</text>
<rect x="108.4" y="610.3" width="107.4" height="39.1" rx="11" fill="#d6dce3"/>
<text x="114" y="627" font-size="13.5" fill="#5a5a5a" font-weight="normal" textLength="96.5" lengthAdjust="spacingAndGlyphs">Cationic protein</text>
<text x="144" y="644.5" font-size="13.5" fill="#5a5a5a" font-weight="normal" textLength="37" lengthAdjust="spacingAndGlyphs">cargo</text>
<rect x="516" y="537.1" width="65.5" height="21.3" rx="9" fill="#d8dde3" style="mix-blend-mode:multiply"/>
<text x="520.8" y="553.7" font-size="13" fill="#5f5f5f" textLength="55.9" lengthAdjust="spacingAndGlyphs">Kd~10<tspan font-size="8" dy="-5">-13</tspan><tspan dy="5">M</tspan></text>
<rect x="520.2" y="611.1" width="127.8" height="42" rx="12" fill="#d6dce3"/>
<text x="538.6" y="626.7" font-size="13.5" fill="#5a5a5a" font-weight="normal" textLength="92.3" lengthAdjust="spacingAndGlyphs">Tagged protein</text>
<text x="525.3" y="645" font-size="13.5" fill="#5a5a5a" font-weight="normal" textLength="118.2" lengthAdjust="spacingAndGlyphs">cargo (e.g., 6x His)</text>
</svg></body></html>
